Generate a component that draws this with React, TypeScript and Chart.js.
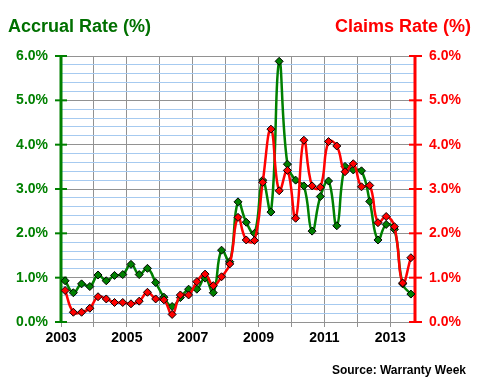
import React, { useEffect, useRef } from "react";
import { Chart, registerables } from "chart.js";

Chart.register(...registerables);

// Quarterly data, 2003 Q1 .. 2013 Q3
const firstYear = 2003;
const accrualRate = [
  0.93, 0.66, 0.86, 0.8, 1.06, 0.93, 1.05, 1.07, 1.3, 1.07, 1.21, 0.89, 0.56, 0.35, 0.55,
  0.74, 0.74, 0.99, 0.66, 1.62, 1.36, 2.71, 2.25, 2.0, 3.2, 2.48, 5.88, 3.56, 3.2, 3.07,
  2.05, 2.83, 3.18, 2.17, 3.51, 3.43, 3.41, 2.72, 1.85, 2.2, 2.09, 0.86, 0.63,
];
const claimsRate = [
  0.71, 0.22, 0.22, 0.31, 0.57, 0.52, 0.44, 0.44, 0.41, 0.47, 0.67, 0.52, 0.5, 0.17, 0.61,
  0.61, 0.91, 1.08, 0.82, 1.02, 1.31, 2.36, 1.85, 1.84, 3.15, 4.35, 2.96, 3.42, 2.34, 4.1,
  3.07, 3.04, 4.07, 3.97, 3.39, 3.57, 3.05, 3.08, 2.24, 2.38, 2.15, 0.88, 1.45,
];
const yearLabels = ["2003", "2005", "2007", "2009", "2011", "2013"];
const yTickLabels = ["0.0%", "1.0%", "2.0%", "3.0%", "4.0%", "5.0%", "6.0%"];
const leftTitle = "Accrual Rate (%)";
const rightTitle = "Claims Rate (%)";
const sourceText = "Source: Warranty Week";

const FONT = "'Liberation Sans', Arial, sans-serif";
const GREEN = "#008000";
const TITLE_GREEN = "#007000";
const RED = "#ff0000";

const quarterX = (i: number) => firstYear + (i + 0.5) / 4;

const decorPlugin = {
  id: "decor",
  beforeDatasetsDraw(chart: any) {
    const { ctx, chartArea } = chart;
    const yl = chart.scales.y;
    const yr = chart.scales.y2;
    ctx.save();
    // left axis
    ctx.strokeStyle = GREEN;
    ctx.lineWidth = 3;
    ctx.beginPath();
    ctx.moveTo(chartArea.left, chartArea.top);
    ctx.lineTo(chartArea.left, chartArea.bottom);
    ctx.stroke();
    ctx.lineWidth = 2;
    for (let v = 0; v <= 6; v++) {
      const y = yl.getPixelForValue(v);
      ctx.beginPath();
      ctx.moveTo(chartArea.left - 6, y);
      ctx.lineTo(chartArea.left + 6, y);
      ctx.stroke();
    }
    // right axis
    ctx.strokeStyle = RED;
    ctx.lineWidth = 3;
    ctx.beginPath();
    ctx.moveTo(chartArea.right, chartArea.top);
    ctx.lineTo(chartArea.right, chartArea.bottom);
    ctx.stroke();
    ctx.lineWidth = 2;
    for (let v = 0; v <= 6; v++) {
      const y = yr.getPixelForValue(v);
      ctx.beginPath();
      ctx.moveTo(chartArea.right - 6, y);
      ctx.lineTo(chartArea.right + 7, y);
      ctx.stroke();
    }
    ctx.restore();
  },
  afterDraw(chart: any) {
    const { ctx } = chart;
    ctx.save();
    ctx.textBaseline = "alphabetic";
    ctx.font = `bold 18px ${FONT}`;
    ctx.fillStyle = TITLE_GREEN;
    ctx.textAlign = "left";
    ctx.fillText(leftTitle, 8, 32);
    ctx.fillStyle = RED;
    ctx.textAlign = "right";
    ctx.fillText(rightTitle, 471, 32);
    ctx.font = `bold 12px ${FONT}`;
    ctx.fillStyle = "#000";
    ctx.fillText(sourceText, 466, 374);
    ctx.restore();
  },
};

export default function App() {
  const ref = useRef<HTMLCanvasElement | null>(null);
  useEffect(() => {
    if (!ref.current) return;
    const isInt = (v: number) => Math.abs(v - Math.round(v)) < 1e-6;
    const chart = new Chart(ref.current, {
      type: "line",
      data: {
        datasets: [
          {
            label: "Claims Rate",
            data: claimsRate.map((v, i) => ({ x: quarterX(i), y: v })),
            yAxisID: "y2",
            borderColor: RED,
            backgroundColor: RED,
            borderWidth: 2.5,
            pointStyle: "rectRot",
            pointRadius: 4,
            pointBorderColor: "#000",
            pointBorderWidth: 1,
            pointBackgroundColor: RED,
            tension: 0.45,
            fill: false,
          },
          {
            label: "Accrual Rate",
            data: accrualRate.map((v, i) => ({ x: quarterX(i), y: v })),
            yAxisID: "y",
            borderColor: GREEN,
            backgroundColor: GREEN,
            borderWidth: 2.5,
            pointStyle: "rectRot",
            pointRadius: 4,
            pointBorderColor: "#000",
            pointBorderWidth: 1,
            pointBackgroundColor: GREEN,
            tension: 0.45,
            fill: false,
          },
        ],
      },
      options: {
        responsive: false,
        animation: false,
        layout: { padding: { top: 56, left: 0, right: 0, bottom: 0 } },
        plugins: { legend: { display: false }, tooltip: { enabled: false } },
        scales: {
          x: {
            type: "linear",
            min: 2003,
            max: 2013.75,
            afterFit: (s: any) => {
              s.height = 58;
            },
            border: { display: false },
            grid: { color: "#929292", lineWidth: 1, tickLength: 5, drawTicks: true },
            ticks: {
              stepSize: 1,
              includeBounds: false,
              autoSkip: false,
              maxRotation: 0,
              padding: 3,
              color: "#000",
              font: { family: FONT, size: 14, weight: "bold" },
              callback: (v: any) => {
                const s = String(Math.round(v));
                return yearLabels.includes(s) ? s : "";
              },
            },
          },
          y: {
            position: "left",
            min: 0,
            max: 6,
            afterFit: (s: any) => {
              s.width = 61;
            },
            border: { display: false },
            grid: {
              drawTicks: false,
              lineWidth: 1,
              color: (c: any) => (isInt(c.tick.value) ? "#929292" : "#a6caf0"),
            },
            ticks: {
              stepSize: 0.2,
              autoSkip: false,
              padding: 13,
              color: GREEN,
              font: { family: FONT, size: 14, weight: "bold" },
              callback: (v: any) => (isInt(v) ? yTickLabels[Math.round(v)] : ""),
            },
          },
          y2: {
            position: "right",
            min: 0,
            max: 6,
            afterFit: (s: any) => {
              s.width = 65;
            },
            border: { display: false },
            grid: { drawOnChartArea: false, drawTicks: false },
            ticks: {
              stepSize: 1,
              autoSkip: false,
              padding: 14,
              color: RED,
              font: { family: FONT, size: 14, weight: "bold" },
              callback: (v: any) => yTickLabels[Math.round(v)],
            },
          },
        },
      },
      plugins: [decorPlugin],
    } as any);
    return () => chart.destroy();
  }, []);
  return (
    <div style={{ position: "absolute", left: 0, top: 0, width: 480, height: 380, background: "#fff" }}>
      <canvas ref={ref} width={480} height={380} />
    </div>
  );
}
